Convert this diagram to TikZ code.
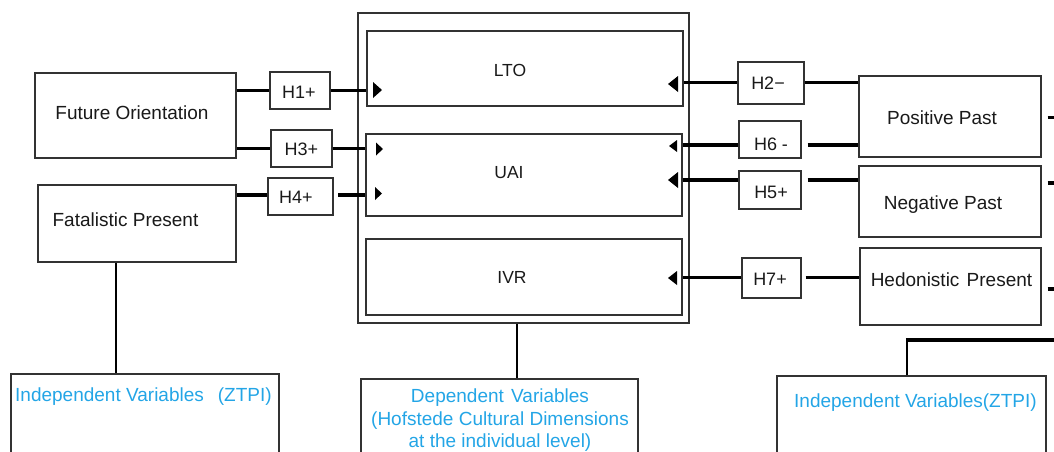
\documentclass[tikz,border=0pt]{standalone}
\usepackage{fontspec}
\setmainfont{Liberation Sans}
\usetikzlibrary{fit}
\definecolor{cyanT}{RGB}{35,165,230}
\definecolor{edgec}{RGB}{50,50,50}
\definecolor{textc}{RGB}{25,25,25}
\newcommand\mytri[4]{\fill[black] (#1,{#3-#4}) -- (#2,#3) -- (#1,{#3+#4}) -- cycle;}
\begin{document}
\begin{tikzpicture}[x=1pt,y=-1pt,
  box/.style={draw=edgec,line width=1.1pt,inner sep=0pt,fit={#1}},
  conn/.style={line width=3.9pt},
  vline/.style={line width=2.5pt},
  lbl/.style={font=\fontsize{19}{22}\selectfont,text=textc,inner sep=0pt,text height=13.7pt,text depth=0pt},
  hlbl/.style={font=\fontsize{18}{21}\selectfont,text=textc,inner sep=0pt,text height=13pt,text depth=0pt},
  dlbl/.style={font=\fontsize{17.5}{20}\selectfont,text=textc,inner sep=0pt,text height=12.6pt,text depth=0pt},
  ztpi/.style={font=\fontsize{19}{22.5}\selectfont,text=cyanT,inner sep=0pt}]
\clip (0,0) rectangle (1054,451);
% central block
\node[box={(358,13) (689,323)}] (outer) {};
\node[box={(367,31) (683,106)}] (lto) {};
\node[box={(366,134) (682,216)}] (uai) {};
\node[box={(366,239) (682,315)}] (ivr) {};
\node[dlbl] (ltoL) at (510,70) {LTO};
\node[dlbl] (uaiL) at (509,172) {UAI};
\node[dlbl] (ivrL) at (512,277) {IVR};
% left boxes
\node[box={(35,73) (236,158)}] (fo) {};
\node[box={(38,185) (236,262)}] (fp) {};
\node[lbl] (foL) at (132,113) {Future Orientation};
\node[lbl] (fpL) at (125.5,220) {Fatalistic Present};
\node[box={(270,72) (330,109)}] (h1) {};
\node[box={(271,130) (332,167)}] (h3) {};
\node[box={(268,178) (333,215)}] (h4) {};
\node[hlbl] (h1L) at (299,92) {H1+};
\node[hlbl] (h3L) at (301.5,148.5) {H3+};
\node[hlbl] (h4L) at (296,196.5) {H4+};
% right boxes
\node[box={(738,62) (804,104)}] (h2) {};
\node[box={(739,121) (801,158)}] (h6) {};
\node[box={(739,171) (801,209)}] (h5) {};
\node[box={(742,258) (801,298)}] (h7) {};
\node[hlbl] (h2L) at (768,83) {H2−};
\node[hlbl] (h6L) at (771,143.5) {H6 -};
\node[hlbl] (h5L) at (771,191.5) {H5+};
\node[hlbl] (h7L) at (770,279) {H7+};
\node[box={(859,76) (1041,157)}] (pp) {};
\node[box={(859,166) (1041,237)}] (np) {};
\node[box={(860,248) (1041,325)}] (hp) {};
\node[lbl] (ppL) at (942,118) {Positive Past};
\node[lbl] (npL) at (943,203) {Negative Past};
\node[lbl] (hpL) at (951.5,280) {Hedonistic\hspace{2pt} Present};
% bottom boxes
\node[box={(11,374) (279,470)}] (ivl) {};
\node[box={(361,379) (638,470)}] (dv) {};
\node[box={(777,376) (1046,470)}] (ivrt) {};
\node[ztpi,anchor=west] (ivlL) at (15,397) {Independent Variables\hspace{14pt}(ZTPI)};
\node[ztpi,anchor=north,align=center] (dvL) at (500,389) {Dependent\hspace{2pt} Variables\\(Hofstede Cultural Dimensions\\at the individual level)};
\node[ztpi,anchor=west] (ivrtL) at (794,403) {Independent Variables(ZTPI)};
% connector coordinates
\coordinate (y1) at (0,90.5);
\coordinate (y3) at (0,148.5);
\coordinate (y4) at (0,195);
\coordinate (y2) at (0,82.5);
\coordinate (y6) at (0,145);
\coordinate (y5) at (0,180);
\coordinate (y7) at (0,277.5);
% left connectors
\draw[conn] (fo.east |- y1) -- (h1.west |- y1);
\draw[conn] (h1.east |- y1) -- (lto.west |- y1);
\draw[conn] (fo.east |- y3) -- (h3.west |- y3);
\draw[conn] (h3.east |- y3) -- (uai.west |- y3);
\draw[conn] (fp.east |- y4) -- (h4.west |- y4);
\draw[conn] ([xshift=4.5]h4.east |- y4) -- (uai.west |- y4);
% right connectors
\draw[conn] (lto.east |- y2) -- (h2.west |- y2);
\draw[conn] (h2.east |- y2) -- (pp.west |- y2);
\draw[conn] (uai.east |- y6) -- (h6.west |- y6);
\draw[conn] ([xshift=6]h6.east |- y6) -- (pp.west |- y6);
\draw[conn] (uai.east |- y5) -- (h5.west |- y5);
\draw[conn] ([xshift=6]h5.east |- y5) -- (np.west |- y5);
\draw[conn] (ivr.east |- y7) -- (h7.west |- y7);
\draw[conn] ([xshift=4]h7.east |- y7) -- (hp.west |- y7);
% arrowheads
\mytri{373}{382}{90}{8}
\mytri{376}{383}{149}{6.5}
\mytri{375}{382}{193.5}{6.5}
\mytri{678}{668}{84}{8}
\mytri{677}{669}{146}{6}
\mytri{678}{668}{180}{8}
\mytri{677}{668}{278}{7}
% stubs to the right
\coordinate (e1) at (1060,117.5);
\coordinate (e2) at (1060,183);
\coordinate (e3) at (1060,289);
\draw[conn] ([xshift=6]pp.east |- e1) -- (e1);
\draw[conn] ([xshift=6]np.east |- e2) -- (e2);
\draw[conn] ([xshift=6]hp.east |- e3) -- (e3);
% bottom connectors
\coordinate (xl) at (116,0);
\coordinate (xm) at (517,0);
\draw[vline] (fp.south -| xl) -- (ivl.north -| xl);
\draw[vline] (outer.south -| xm) -- (dv.north -| xm);
\coordinate (rj) at (907,340);
\coordinate (rend) at (1060,340);
\draw[vline] (ivrt.north -| rj) -- ([yshift=1.9]rj);
\draw[conn] ([xshift=-1.25]rj) -- (rend);
\end{tikzpicture}
\end{document}
